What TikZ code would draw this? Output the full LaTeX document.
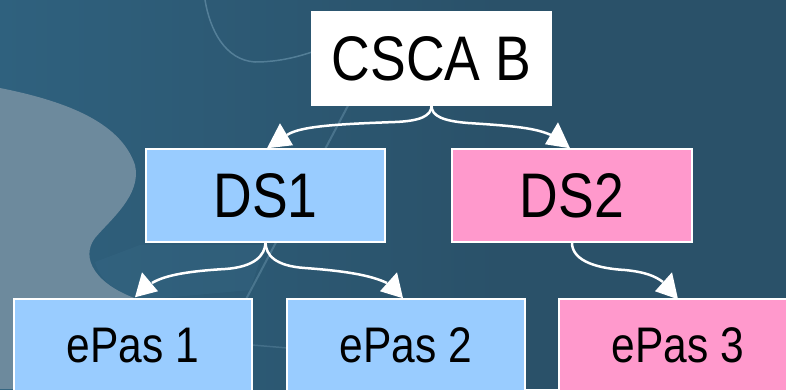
\documentclass[tikz,border=0pt]{standalone}
\usepackage{fontspec}
\setmainfont{Liberation Sans}[FakeStretch=0.85]
\definecolor{bgdark}{HTML}{2A5169}
\definecolor{bgteal}{HTML}{2F617E}
\definecolor{blobgray}{HTML}{6D8A9D}
\definecolor{streak}{HTML}{6E98B0}
\definecolor{dsblue}{HTML}{99CCFF}
\definecolor{dspink}{HTML}{FF99CC}
\tikzset{
  box/.style={draw=white, line width=1.5pt, minimum width=238pt, minimum height=93pt,
    inner sep=0pt, text=black},
  bigtext/.style={font=\fontsize{63}{70}\selectfont},
  smalltext/.style={font=\fontsize{50}{56}\selectfont},
  link/.style={draw=white, line width=2.5pt},
  head/.style={fill=white},
}
\begin{document}
\begin{tikzpicture}[x=1pt, y=-1pt]
  \useasboundingbox (0,0) rectangle (786,389);
  \clip (0,0) rectangle (786,389);

  % backdrop
  \shade[left color=bgteal, right color=bgdark] (0,0) rectangle (500,389);
  \fill[bgdark] (499,0) rectangle (786,389);
  \fill[bgteal!85!streak, opacity=0.35] (250,290) -- (140,300)
    .. controls (115,292) and (100,280) .. (95,262) -- (140,245) -- (265,245) -- cycle;
  \fill[blobgray] (0,88) .. controls (60,100) and (120,120) .. (135,165)
    .. controls (142,195) and (110,220) .. (95,238)
    .. controls (80,258) and (95,285) .. (140,300) -- (140,389) -- (0,389) -- cycle;
  \draw[streak, line width=1.5pt, opacity=0.6] (205,0) .. controls (210,30) and (225,60) .. (255,62)
    .. controls (280,62) and (300,56) .. (312,52);
  \draw[streak, line width=2pt, opacity=0.45] (352,98) -- (243,305);
  \draw[streak, line width=1.5pt, opacity=0.35] (252,345) -- (288,348);

  % boxes
  \node[box, fill=white, bigtext, minimum width=239pt] (csca) at (431.5,58.5) {CSCA B};
  \node[box, fill=dsblue, bigtext, minimum width=239pt] (ds1) at (265.5,195.5) {DS1};
  \node[box, fill=dspink, bigtext, minimum width=240pt] (ds2) at (572,195.5) {DS2};
  \node[box, fill=dsblue, smalltext] (epas1) at (133,345.5) {ePas 1};
  \node[box, fill=dsblue, smalltext] (epas2) at (406,345.5) {ePas 2};
  \node[box, fill=dspink, smalltext] (epas3) at (678,345.5) {ePas 3};

  % connectors
  \draw[link] (csca.south) .. controls (431.5,116) and (420,121) .. (395,122)
    .. controls (340,124) and (300,126) .. (287,135);
  \fill[head] ([shift={(14.5,-25)}]ds1.north) -- ([shift={(1.5,0)}]ds1.north)
    -- ([shift={(27.5,-3)}]ds1.north) -- cycle;

  \draw[link] (csca.south) .. controls (431.5,116) and (443,121) .. (468,123)
    .. controls (515,126) and (535,128) .. (551,135);
  \fill[head] ([shift={(-14,-26)}]ds2.north) -- ([shift={(-27,-4)}]ds2.north)
    -- ([shift={(-2,0)}]ds2.north) -- cycle;

  \draw[link] (ds1.south) .. controls (265,255) and (255,267) .. (225,269)
    .. controls (190,271) and (165,275) .. (152,283);
  \fill[head] ([shift={(9,-26)}]epas1.north) -- ([shift={(2,-1)}]epas1.north)
    -- ([shift={(25,-7)}]epas1.north) -- cycle;

  \draw[link] (ds1.south) .. controls (266,255) and (275,266) .. (305,268)
    .. controls (345,271) and (370,275) .. (387,283);
  \fill[head] ([shift={(-9,-26)}]epas2.north) -- ([shift={(-26,-7)}]epas2.north)
    -- ([shift={(-3,0)}]epas2.north) -- cycle;

  \draw[link] (ds2.south) .. controls (572,258) and (590,268) .. (625,270)
    .. controls (645,272) and (655,276) .. (663,282);
  \fill[head] ([shift={(-6,-26)}]epas3.north) -- ([shift={(-23,-7)}]epas3.north)
    -- ([shift={(0,1)}]epas3.north) -- cycle;
\end{tikzpicture}
\end{document}
